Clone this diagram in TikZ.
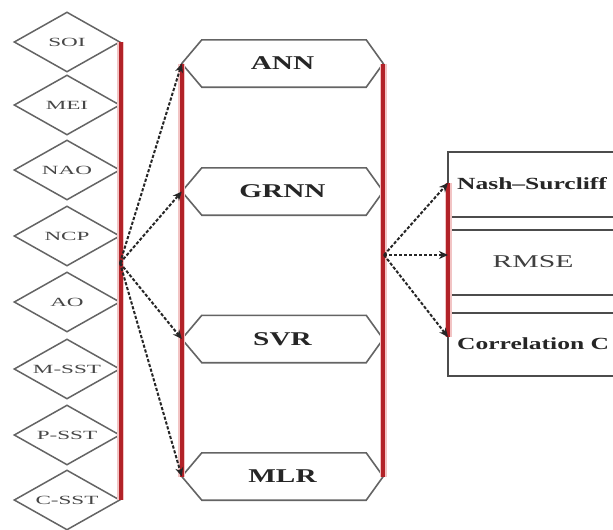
\documentclass[tikz,border=0pt]{standalone}
\usepackage{fontspec}
\setmainfont{Liberation Serif}
\usepackage{graphicx}
\usetikzlibrary{shapes.geometric,arrows.meta}
\definecolor{redline}{RGB}{178,34,40}
\definecolor{redhalo}{RGB}{242,196,196}
\definecolor{shapegray}{RGB}{100,100,100}
\newcommand{\stretchtext}[2]{\scalebox{#1}[1]{#2}}
\tikzset{
  inbox/.style={diamond, draw=shapegray, line width=1.5pt, minimum width=106pt, minimum height=60pt,
    shape aspect=1.77, inner sep=0pt, font=\fontsize{12.5}{13}\selectfont, text=black!72},
  hexlabel/.style={minimum width=201pt, minimum height=47pt, inner sep=0pt,
    font=\fontsize{19.5}{21}\selectfont\bfseries, text=black!85},
  hexline/.style={draw=shapegray, line width=1.6pt},
  boxline/.style={draw=black!70, line width=1.4pt},
  halo/.style={redhalo, line width=7pt},
  redbar/.style={redline, line width=3.5pt},
  flow/.style={black!85, line width=2pt, dash pattern=on 3.2pt off 1.8pt,
    -{Stealth[length=9pt,width=8pt]}},
  celltext/.style={inner sep=0pt, font=\fontsize{17}{19}\selectfont\bfseries, text=black!85},
}
\begin{document}
\begin{tikzpicture}[x=1pt,y=-1pt]
\useasboundingbox (0,0) rectangle (613,530);
\clip (0,0) rectangle (613,530);
\fill[white] (0,0) rectangle (613,530);

% input diamonds
\node[inbox] (soi)  at (67,42)  {\stretchtext{1.85}{SOI}};
\node[inbox] (mei)  at (67,105) {\stretchtext{1.85}{MEI}};
\node[inbox] (nao)  at (67,170) {\stretchtext{1.85}{NAO}};
\node[inbox] (ncp)  at (67,236) {\stretchtext{1.85}{NCP}};
\node[inbox] (ao)   at (67,302) {\stretchtext{1.85}{AO}};
\node[inbox] (msst) at (67,369) {\stretchtext{1.85}{M-SST}};
\node[inbox] (psst) at (67,435) {\stretchtext{1.85}{P-SST}};
\node[inbox] (csst) at (67,500) {\stretchtext{1.85}{C-SST}};

% model hexagons
\node[hexlabel] (ann)  at (282.5,63.5)  {\stretchtext{1.5}{ANN}};
\node[hexlabel] (grnn) at (282.5,191.5) {\stretchtext{1.5}{GRNN}};
\node[hexlabel] (svr)  at (282.5,339)   {\stretchtext{1.5}{SVR}};
\node[hexlabel] (mlr)  at (282.5,476.5) {\stretchtext{1.5}{MLR}};
\foreach \n in {ann,grnn,svr,mlr}{
  \draw[hexline] (\n.west) -- ([xshift=20pt]\n.north west) -- ([xshift=-17pt]\n.north east)
    -- (\n.east) -- ([xshift=-17pt]\n.south east) -- ([xshift=20pt]\n.south west) -- cycle;
}

% evaluation table
\draw[boxline] (448,152) rectangle (640,376);
\draw[boxline] (448,217) -- (640,217);
\draw[boxline] (448,230) -- (640,230);
\draw[boxline] (448,295) -- (640,295);
\draw[boxline] (448,313) -- (640,313);
\node[celltext, anchor=west] (nash) at (457,184) {\stretchtext{1.5}{Nash--Surcliff}};
\node[celltext, anchor=center, font=\fontsize{18}{20}\selectfont, text=black!75] (rmse) at (533,262) {\stretchtext{1.65}{RMSE}};
\node[celltext, anchor=west] (corr) at (457,344) {\stretchtext{1.5}{Correlation C}};

\coordinate (m1) at (448,183);
\coordinate (m2) at (448,255);
\coordinate (m3) at (448,337);
\coordinate (hubA) at (120,263);
\coordinate (hubB) at (384,255);

% red bars
\draw[halo] (soi.east) -- (csst.east);
\draw[halo] (ann.west) -- (mlr.west);
\draw[halo] (ann.east) -- (mlr.east);
\draw[halo] (m1) -- (m3);
\draw[redbar] (soi.east) -- (csst.east);
\draw[redbar] (ann.west) -- (mlr.west);
\draw[redbar] (ann.east) -- (mlr.east);
\draw[redbar] (m1) -- (m3);

% flows
\draw[flow] (hubA) -- (ann.west);
\draw[flow] (hubA) -- (grnn.west);
\draw[flow] (hubA) -- (svr.west);
\draw[flow] (hubA) -- (mlr.west);
\draw[flow] (hubB) -- (m1);
\draw[flow] (hubB) -- (m2);
\draw[flow] (hubB) -- (m3);
\end{tikzpicture}
\end{document}
